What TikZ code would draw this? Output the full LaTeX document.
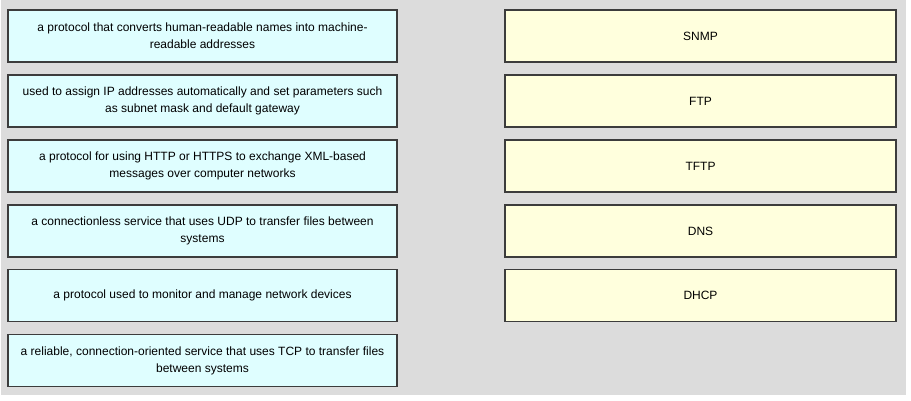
\documentclass[tikz,border=0pt]{standalone}
\usepackage{fontspec}
\setmainfont{Liberation Sans}
\definecolor{bggray}{HTML}{DCDCDC}
\definecolor{leftfill}{HTML}{DFFEFF}
\definecolor{rightfill}{HTML}{FFFFDD}
\definecolor{edge}{HTML}{3C3C3C}
\begin{document}
\begin{tikzpicture}[x=1pt,y=-1pt,
  desc/.style={draw=edge,line width=1.3pt,fill=leftfill,minimum width=389pt,minimum height=52pt,align=center,inner sep=0pt,font=\fontsize{12}{17}\selectfont},
  proto/.style={draw=edge,line width=1.3pt,fill=rightfill,minimum width=391pt,minimum height=52pt,align=center,inner sep=0pt,font=\fontsize{12}{17}\selectfont}]
\useasboundingbox (0,0) rectangle (911,401);
\fill[white] (0,0) rectangle (911,401);
\fill[bggray] (1,0) rectangle (906,395);
\node[desc] (d1) at (202.5,36) {a protocol that converts human-readable names into machine-\\readable addresses};
\node[desc] (d2) at (202.5,101) {used to assign IP addresses automatically and set parameters such\\as subnet mask and default gateway};
\node[desc] (d3) at (202.5,166) {a protocol for using HTTP or HTTPS to exchange XML-based\\messages over computer networks};
\node[desc] (d4) at (202.5,231) {a connectionless service that uses UDP to transfer files between\\systems};
\node[desc] (d5) at (202.5,295.5) {a protocol used to monitor and manage network devices};
\node[desc] (d6) at (202.5,360.5) {a reliable, connection-oriented service that uses TCP to transfer files\\between systems};
\node[proto] (p1) at (700.5,36) {SNMP};
\node[proto] (p2) at (700.5,101) {FTP};
\node[proto] (p3) at (700.5,166) {TFTP};
\node[proto] (p4) at (700.5,231) {DNS};
\node[proto] (p5) at (700.5,295.5) {DHCP};
\end{tikzpicture}
\end{document}
